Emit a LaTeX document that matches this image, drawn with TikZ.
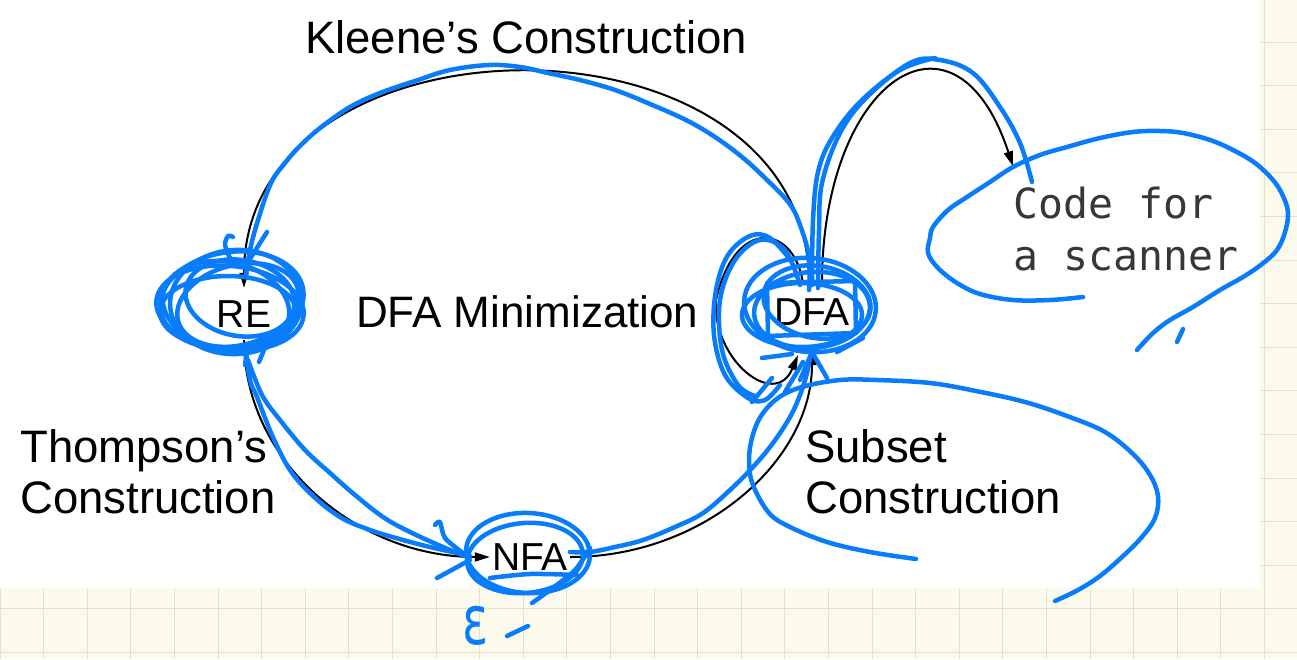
\documentclass[tikz,border=0pt]{standalone}
\usepackage{fontspec}
\setmainfont{Liberation Sans}
\newfontfamily\codefont{DejaVu Sans Mono}
\newfontfamily\epsfont{DejaVu Sans}
\usetikzlibrary{arrows.meta}
\definecolor{ink}{RGB}{8,124,250}
\definecolor{paper}{RGB}{252,250,236}
\definecolor{gridc}{RGB}{228,224,206}
\definecolor{codegray}{RGB}{55,55,55}
\begin{document}
\begin{tikzpicture}[x=1pt,y=-1pt,
  lbl/.style={font=\fontsize{45.5}{50}\selectfont, inner sep=0pt, anchor=base west},
  statebox/.style={font=\fontsize{39}{42}\selectfont, inner sep=0pt},
  codelbl/.style={font=\codefont\fontsize{41.5}{50}\selectfont, text=codegray, inner sep=0pt, anchor=base west},
  conn/.style={draw=black, line width=2pt, -{Triangle[length=15pt,width=9pt]}},
  inkline/.style={draw=ink, line width=4.5pt, line cap=round, line join=round},
]
\useasboundingbox (0,0) rectangle (1297,659);
% paper and grid
\fill[paper] (0,0) rectangle (1297,659);
\foreach \i in {0,...,30} \draw[gridc, line width=1pt] (\i*43.6,0) -- (\i*43.6,659);
\foreach \j in {-1,...,14} \draw[gridc, line width=1pt] (0,42+\j*43.6) -- (1297,42+\j*43.6);
\fill[white] (0,0) rectangle (1260,588);

% states
\node[statebox, minimum width=60pt, minimum height=52pt] (RE) at (244,314) {RE};
\node[statebox, minimum width=82pt, minimum height=56pt] (DFA) at (812,312) {DFA};
\node[statebox, minimum width=80pt, minimum height=40pt] (NFA) at (530,557) {NFA};

% labels
\node[lbl] (kleene) at (305,53) {Kleene’s Construction};
\node[lbl, font=\fontsize{44}{50}\selectfont] (minim) at (356,327) {DFA Minimization};
\node[lbl] (thompA) at (20,462) {Thompson’s};
\node[lbl] (thompB) at (20,513) {Construction};
\node[lbl] (subsetA) at (805,462) {Subset};
\node[lbl] (subsetB) at (805,513) {Construction};
\node[codelbl] (codeA) at (1013,218) {Code for};
\node[codelbl] (codeB) at (1013,270) {a scanner};

% black connectors
\draw[conn] ([xshift=-3pt]DFA.north) .. controls +(0,-285) and +(0,-285) .. (RE.north);
\draw[conn] (RE.south) .. controls +(0,120) and +(-134,0) .. (NFA.west);
\draw[conn] (NFA.east) .. controls +(134,0) and +(0,110) .. ([yshift=-10pt]DFA.south);
\draw[conn] ([xshift=-9pt]DFA.north) .. controls (795,225) and (735,215) .. (716,300)
            .. controls (712,360) and (775,410) .. ([xshift=-14pt,yshift=-15pt]DFA.south);
\draw[conn] ([xshift=10pt]DFA.north) .. controls (822,80) and (955,-10) .. ([yshift=20pt]codeA.north west);

% ---- blue handwriting ----
% RE scribble
\draw[inkline, rotate around={8:(232,300)}] (232,300) ellipse [x radius=72, y radius=48];
\draw[inkline, rotate around={-6:(230,308)}] (230,308) ellipse [x radius=74, y radius=42];
\draw[inkline, rotate around={15:(238,305)}] (238,305) ellipse [x radius=62, y radius=40];
\draw[inkline] (228,312) ellipse [x radius=68, y radius=36];
\draw[inkline, rotate around={-10:(240,298)}] (240,298) ellipse [x radius=55, y radius=38];
\draw[inkline, rotate around={4:(236,302)}] (236,302) ellipse [x radius=66, y radius=52];
\draw[inkline, rotate around={-12:(226,306)}] (226,306) ellipse [x radius=64, y radius=44];
\draw[inkline] plot[smooth] coordinates {(230,258) (225,245) (228,236) (233,237)};
\draw[inkline] (267,232) -- (248,262);
\draw[inkline] (248,345) -- (245,365);
\draw[inkline] (268,340) -- (259,362);

% Kleene trace
\draw[inkline] plot[smooth, tension=0.6] coordinates {(809,290) (809,257) (800,225) (789,203) (765,178) (742,157) (715,137) (686,120) (650,104) (615,90) (580,80) (548,73) (520,67) (489,65) (450,70) (418,80) (380,93) (350,107) (320,128) (299,147) (285,163) (271,183) (258,220) (250,250) (246,275)};

% Code arrow traces
\draw[inkline] plot[smooth, tension=0.6] coordinates {(818,288) (819,230) (822,183) (840,133) (867,97) (910,63) (940,60) (973,73) (1000,107) (1020,143) (1032,182)};
\draw[inkline] plot[smooth, tension=0.6] coordinates {(812,285) (813,220) (818,172) (832,138) (860,102) (900,70) (935,58)};

% DFA scribble
\draw[inkline, rotate around={-5:(810,305)}] (810,305) ellipse [x radius=66, y radius=47];
\draw[inkline, rotate around={5:(812,310)}] (812,310) ellipse [x radius=58, y radius=38];
\draw[inkline] (802,315) ellipse [x radius=60, y radius=32];
\draw[inkline, rotate around={-10:(817,302)}] (817,302) ellipse [x radius=54, y radius=36];
\draw[inkline] (767,283) -- (855,281) -- (856,333) -- (768,336) -- cycle;
\draw[inkline] plot[smooth, tension=0.6] coordinates {(792,262) (770,238) (750,236) (728,255) (716,290) (714,335) (725,375) (748,398) (765,400) (780,385)};
\draw[inkline] plot[smooth, tension=0.6] coordinates {(800,285) (785,250) (760,240) (735,260) (720,300) (722,350) (738,385) (755,396)};
\draw[inkline] (752,402) -- (772,378);
\draw[inkline] (762,358) -- (792,354);
\draw[inkline] (785,392) -- (803,362);
\draw[inkline] (800,380) -- (812,352) -- (827,378);
\draw[inkline] (837,352) -- (863,338);

% Thompson traces
\draw[inkline] plot[smooth, tension=0.6] coordinates {(245,345) (250,380) (257,397) (272,435) (290,470) (312,495) (340,517) (370,530) (403,540) (430,547) (457,553) (470,556)};
\draw[inkline] plot[smooth, tension=0.6] coordinates {(248,360) (262,395) (280,420) (305,450) (330,473) (355,495) (383,517) (410,532) (443,547) (465,556)};
\draw[inkline] plot[smooth] coordinates {(435,525) (440,522) (445,538) (463,553)};
\draw[inkline] (437,578) -- (470,560);

% NFA scribble
\draw[inkline, rotate around={-3:(528,553)}] (528,553) ellipse [x radius=62, y radius=40];
\draw[inkline, rotate around={5:(525,558)}] (525,558) ellipse [x radius=58, y radius=35];
\draw[inkline] plot[smooth] coordinates {(490,578) (530,574) (577,575)};
\draw[inkline] plot[smooth] coordinates {(532,603) (550,590) (575,570) (590,548)};

% Subset trace
\draw[inkline] plot[smooth, tension=0.6] coordinates {(570,552) (590,552) (615,547) (643,540) (675,527) (703,513) (730,490) (753,467) (773,443) (790,417) (800,395) (807,373) (810,357)};

% Subset loop
\draw[inkline] plot[smooth, tension=0.6] coordinates {(916,559) (870,552) (827,542) (790,527) (769,513) (753,485) (749,462) (752,438) (761,416) (778,398) (802,387) (840,380) (877,380) (930,383) (976,391) (1025,402) (1067,416) (1105,432) (1133,454) (1150,475) (1158,496) (1155,518) (1141,538) (1122,557) (1100,576) (1078,590) (1055,601)};

% Code loop
\draw[inkline] plot[smooth, tension=0.6] coordinates {(1083,297) (1050,300) (1013,300) (980,294) (957,283) (938,268) (928,253) (930,238) (933,227) (948,210) (967,197) (990,182) (1013,167) (1040,155) (1067,147) (1100,138) (1133,132) (1160,131) (1183,133) (1210,140) (1233,150) (1255,163) (1273,180) (1283,196) (1288,213) (1285,232) (1277,250) (1262,264) (1243,277) (1220,290) (1193,307) (1170,320) (1153,333) (1137,350)};
\draw[inkline] (1183,329) -- (1177,342);

% epsilon note
\node[text=ink, font=\epsfont\fontsize{44}{44}\selectfont, inner sep=0pt] (eps) at (476,626) {\scalebox{1.1}[1.55]{ε}};
\draw[inkline] (507,636) -- (528,626);
\end{tikzpicture}
\end{document}
